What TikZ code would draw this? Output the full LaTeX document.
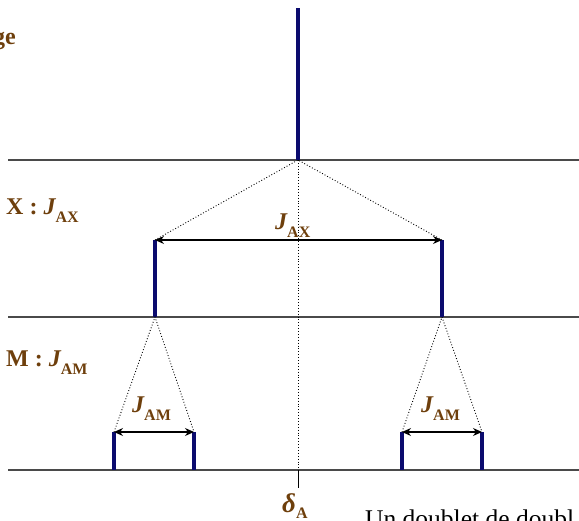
\documentclass[tikz,border=0pt]{standalone}
\usepackage{fontspec}
\setmainfont{Liberation Serif}
\usetikzlibrary{arrows.meta, positioning, calc}
\definecolor{cnavy}{HTML}{0B0B6E}
\definecolor{cbrown}{HTML}{6E3F0C}
\definecolor{cgrey}{HTML}{4A4A4A}
\newcommand{\cpl}[2]{{\itshape #1}\raisebox{-0.3em}{\fontsize{16}{16}\selectfont #2}}
\tikzset{
  every picture/.style={x=1pt, y=-1pt},
  peak/.style={draw=cnavy, line width=4.5pt},
  base/.style={draw=cgrey, line width=1.4pt},
  guide/.style={draw=black, line width=0.9pt, dotted},
  coupling/.style={{Stealth[length=9pt,width=8pt]}-{Stealth[length=9pt,width=8pt]}, line width=1.2pt},
  lbl/.style={font=\fontsize{24}{24}\selectfont\bfseries, text=cbrown, inner sep=0pt, anchor=base west},
}
\begin{document}
\begin{tikzpicture}
  \useasboundingbox (0,0) rectangle (579,521);
  % baselines
  \foreach \y/\n in {160/top, 317/mid, 470/bot} {
    \coordinate (\n-l) at (8,\y);
    \coordinate (\n-r) at (579,\y);
    \draw[base] (\n-l) -- (\n-r);
  }
  % peaks: foot and top
  \foreach \p/\x/\yb/\yt in {a0/298/160/8, x1/155/317/240, x2/442/317/240,
                             m1/114/470/432, m2/194/470/432, m3/402/470/432, m4/482/470/432} {
    \coordinate (\p) at (\x,\yb);
    \coordinate (\p-t) at (\x,\yt);
    \draw[peak] (\p) -- (\p-t);
  }
  % splitting guides
  \draw[guide] (x1-t) -- (a0) -- (x2-t);
  \draw[guide] (m1-t) -- (x1) -- (m2-t);
  \draw[guide] (m3-t) -- (x2) -- (m4-t);
  \coordinate (dA-tick) at (298,488);
  \draw[guide] (a0) -- (a0 |- bot-l);
  \draw[line width=0.9pt] (a0 |- bot-l) -- (dA-tick);
  % couplings
  \draw[coupling] (x1-t) -- (x2-t);
  \draw[coupling] (m1-t) -- (m2-t);
  \draw[coupling] (m3-t) -- (m4-t);
  % labels
  \node[lbl, anchor=base east] (ge) at (16,45) {ge};
  \node[lbl] (lx) at (6,215) {X : \cpl{J}{AX}};
  \node[lbl] (lm) at (6,367) {M : \cpl{J}{AM}};
  \node[lbl] (jax) at (275,230) {\cpl{J}{AX}};
  \node[lbl] (jam1) at (132,413) {\cpl{J}{AM}};
  \node[lbl] (jam2) at (421,413) {\cpl{J}{AM}};
  \node[lbl, font=\fontsize{27}{27}\selectfont\bfseries] (dA) at (282,513) {\textit{δ}\raisebox{-0.2em}{\fontsize{16}{16}\selectfont A}};
  \node[anchor=base west, inner sep=0pt, font=\fontsize{25.5}{25.5}\selectfont] (cap) at (365,527) {Un doublet de doubl};
\end{tikzpicture}
\end{document}
